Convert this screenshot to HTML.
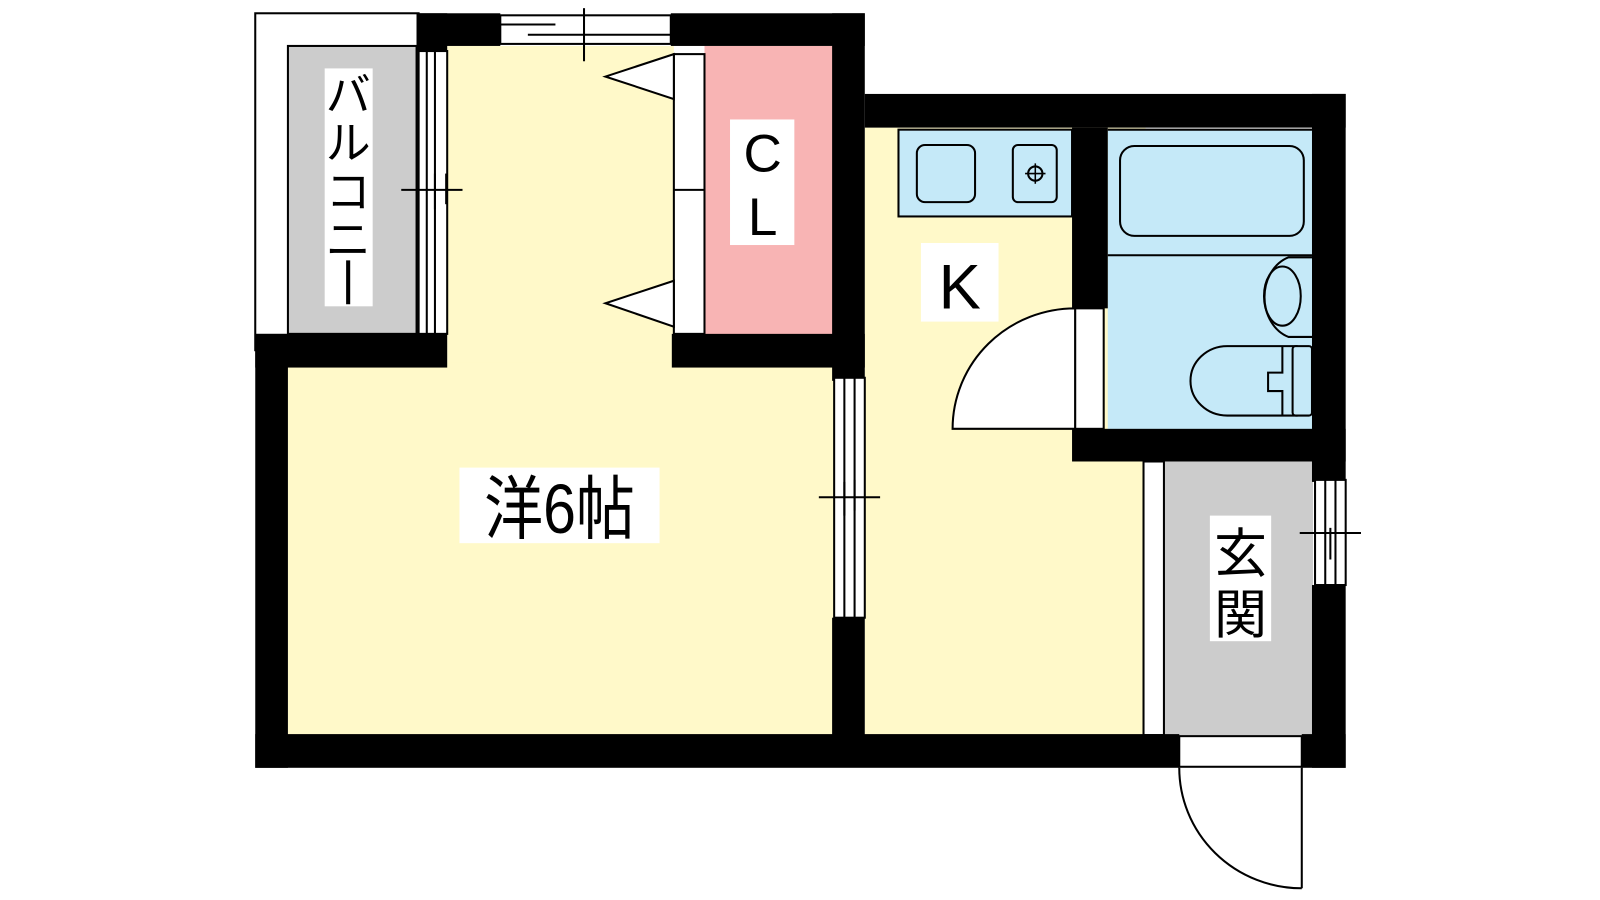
<!DOCTYPE html>
<html><head><meta charset="utf-8"><style>
html,body{margin:0;padding:0;background:#fff;}
svg{display:block}
text{font-family:"Liberation Sans","Noto Sans CJK JP",sans-serif;fill:#000}
</style></head><body>
<svg width="1600" height="900" viewBox="0 0 1600 900" xmlns="http://www.w3.org/2000/svg">
<rect width="1600" height="900" fill="#fff"/>
<g transform="scale(1.021)">
<!-- balcony -->
<rect x="250" y="13" width="160" height="330" fill="#fff" stroke="#000" stroke-width="2"/>
<rect x="282" y="45" width="126" height="282" fill="#ccc" stroke="#000" stroke-width="2"/>
<!-- floors -->
<rect x="438" y="45" width="222" height="320" fill="#fff9c9"/>
<rect x="282" y="355" width="535" height="366" fill="#fff9c9"/>
<rect x="847" y="125" width="275" height="596" fill="#fff9c9"/>
<rect x="690" y="45" width="127" height="284" fill="#f8b4b4"/>
<rect x="1085" y="127" width="200" height="295" fill="#c5e9f8"/>
<rect x="1140" y="452" width="146" height="268" fill="#ccc"/>
<rect x="1120" y="452" width="20" height="268" fill="#fff" stroke="#000" stroke-width="2"/>
<!-- walls -->
<g fill="#000">
<rect x="250" y="327" width="32" height="425"/>
<rect x="250" y="719" width="905" height="33"/>
<rect x="1275" y="719" width="43" height="33"/>
<rect x="250" y="327" width="188" height="33"/>
<rect x="658" y="327" width="189" height="33"/>
<rect x="408" y="13" width="82" height="32"/>
<rect x="408" y="13" width="30" height="37"/>
<rect x="657" y="13" width="190" height="32"/>
<rect x="815" y="13" width="32" height="360"/>
<rect x="815" y="605" width="32" height="116"/>
<rect x="847" y="92" width="471" height="33"/>
<rect x="1285" y="92" width="33" height="380"/>
<rect x="1285" y="573" width="33" height="179"/>
<rect x="1050" y="125" width="35" height="177"/>
<rect x="1050" y="420" width="268" height="32"/>
</g>
<!-- top window -->
<rect x="490" y="15" width="167" height="28" fill="#fff" stroke="#000" stroke-width="2"/>
<line x1="490" y1="24" x2="544" y2="24" stroke="#000" stroke-width="2"/>
<line x1="517" y1="34" x2="657" y2="34" stroke="#000" stroke-width="2"/>
<line x1="572" y1="8" x2="572" y2="60" stroke="#000" stroke-width="2"/>
<!-- balcony window -->
<rect x="410" y="50" width="28" height="277" fill="#fff" stroke="#000" stroke-width="2"/>
<line x1="418" y1="50" x2="418" y2="327" stroke="#000" stroke-width="2"/>
<line x1="426" y1="50" x2="426" y2="327" stroke="#000" stroke-width="2"/>
<line x1="393" y1="186" x2="453" y2="186" stroke="#000" stroke-width="2"/>
<line x1="437" y1="170" x2="437" y2="200" stroke="#000" stroke-width="2"/>
<line x1="426" y1="170" x2="426" y2="205" stroke="#000" stroke-width="2"/>
<!-- CL doors -->
<rect x="660" y="53" width="30" height="274" fill="#fff" stroke="#000" stroke-width="2"/>
<line x1="660" y1="186" x2="690" y2="186" stroke="#000" stroke-width="2"/>
<polygon points="660,53 593,75 660,97" fill="#fff" stroke="#000" stroke-width="2"/>
<polygon points="660,275 593,297 660,320" fill="#fff" stroke="#000" stroke-width="2"/>
<!-- middle window -->
<rect x="817" y="370" width="30" height="235" fill="#fff" stroke="#000" stroke-width="2"/>
<line x1="827" y1="370" x2="827" y2="605" stroke="#000" stroke-width="2"/>
<line x1="837" y1="370" x2="837" y2="605" stroke="#000" stroke-width="2"/>
<line x1="802" y1="487" x2="862" y2="487" stroke="#000" stroke-width="2"/>
<line x1="827" y1="472" x2="827" y2="505" stroke="#000" stroke-width="2"/>
<line x1="837" y1="470" x2="837" y2="500" stroke="#000" stroke-width="2"/>
<!-- kitchen -->
<rect x="880" y="127" width="170" height="85" fill="#c5e9f8" stroke="#000" stroke-width="2"/>
<rect x="898" y="142" width="57" height="56" rx="8" fill="#c5e9f8" stroke="#000" stroke-width="2"/>
<rect x="992" y="142" width="43" height="56" rx="5" fill="#c5e9f8" stroke="#000" stroke-width="2"/>
<circle cx="1014" cy="170" r="7" fill="none" stroke="#000" stroke-width="2"/>
<line x1="1004" y1="170" x2="1024" y2="170" stroke="#000" stroke-width="1.5"/>
<line x1="1014" y1="160" x2="1014" y2="180" stroke="#000" stroke-width="1.5"/>
<!-- bath -->
<line x1="1085" y1="250" x2="1285" y2="250" stroke="#000" stroke-width="2"/>
<line x1="1085" y1="127" x2="1285" y2="127" stroke="#000" stroke-width="2"/>
<rect x="1097" y="143" width="180" height="88" rx="14" fill="#c5e9f8" stroke="#000" stroke-width="2"/>
<path d="M1285,252 H1262 A34,41 0 0 0 1262,330 H1285" fill="#c5e9f8" stroke="#000" stroke-width="2"/>
<ellipse cx="1256" cy="290" rx="18" ry="29" fill="none" stroke="#000" stroke-width="2"/>
<path d="M1270,339 H1202 A36,34 0 0 0 1202,407 H1270 Z" fill="#c5e9f8" stroke="#000" stroke-width="2"/>
<path d="M1272,339 V407 M1256,339 V365 H1242 V383 H1256 V407" fill="none" stroke="#000" stroke-width="2"/>
<rect x="1266" y="339" width="19" height="68" rx="3" fill="#c5e9f8" stroke="#000" stroke-width="2"/>
<!-- bath door -->
<rect x="1053" y="302" width="28" height="118" fill="#fff" stroke="#000" stroke-width="2"/>
<path d="M1053,302 A120,118 0 0 0 933,420 H1053 Z" fill="#fff" stroke="#000" stroke-width="2"/>
<!-- genkan window -->
<rect x="1288" y="470" width="30" height="103" fill="#fff" stroke="#000" stroke-width="2"/>
<line x1="1298" y1="470" x2="1298" y2="573" stroke="#000" stroke-width="2"/>
<line x1="1308" y1="470" x2="1308" y2="573" stroke="#000" stroke-width="2"/>
<line x1="1273" y1="522" x2="1333" y2="522" stroke="#000" stroke-width="2"/>
<line x1="1303" y1="517" x2="1303" y2="548" stroke="#000" stroke-width="2"/>
<!-- entrance door -->
<rect x="1155" y="721" width="120" height="30" fill="#fff" stroke="#000" stroke-width="2"/>
<path d="M1155,752 A120,118 0 0 0 1275,870" fill="none" stroke="#000" stroke-width="2"/>
<line x1="1275" y1="752" x2="1275" y2="870" stroke="#000" stroke-width="2"/>
<!-- labels -->
<rect x="318" y="67" width="47" height="233" fill="#fff"/>
<text x="341" y="108" font-size="44" text-anchor="middle">バ</text>
<text x="341" y="155" font-size="44" text-anchor="middle">ル</text>
<text x="341" y="203" font-size="44" text-anchor="middle">コ</text>
<text x="341" y="250" font-size="44" text-anchor="middle">ニ</text>
<line x1="341" y1="255" x2="341" y2="298" stroke="#000" stroke-width="4"/>
<rect x="715" y="117" width="63" height="123" fill="#fff"/>
<text x="747" y="168" font-size="52" text-anchor="middle">C</text>
<text x="747" y="230" font-size="52" text-anchor="middle">L</text>
<rect x="902" y="238" width="76" height="77" fill="#fff"/>
<text x="940" y="302" font-size="62" text-anchor="middle">K</text>
<rect x="450" y="458" width="196" height="74" fill="#fff"/>
<text x="548" y="522" font-size="68" text-anchor="middle" transform="translate(548 0) scale(0.85 1) translate(-548 0)">洋6帖</text>
<rect x="1185" y="505" width="60" height="123" fill="#fff"/>
<text x="1215" y="560" font-size="52" text-anchor="middle">玄</text>
<text x="1215" y="620" font-size="52" text-anchor="middle">関</text>
</g>
</svg>
</body></html>
